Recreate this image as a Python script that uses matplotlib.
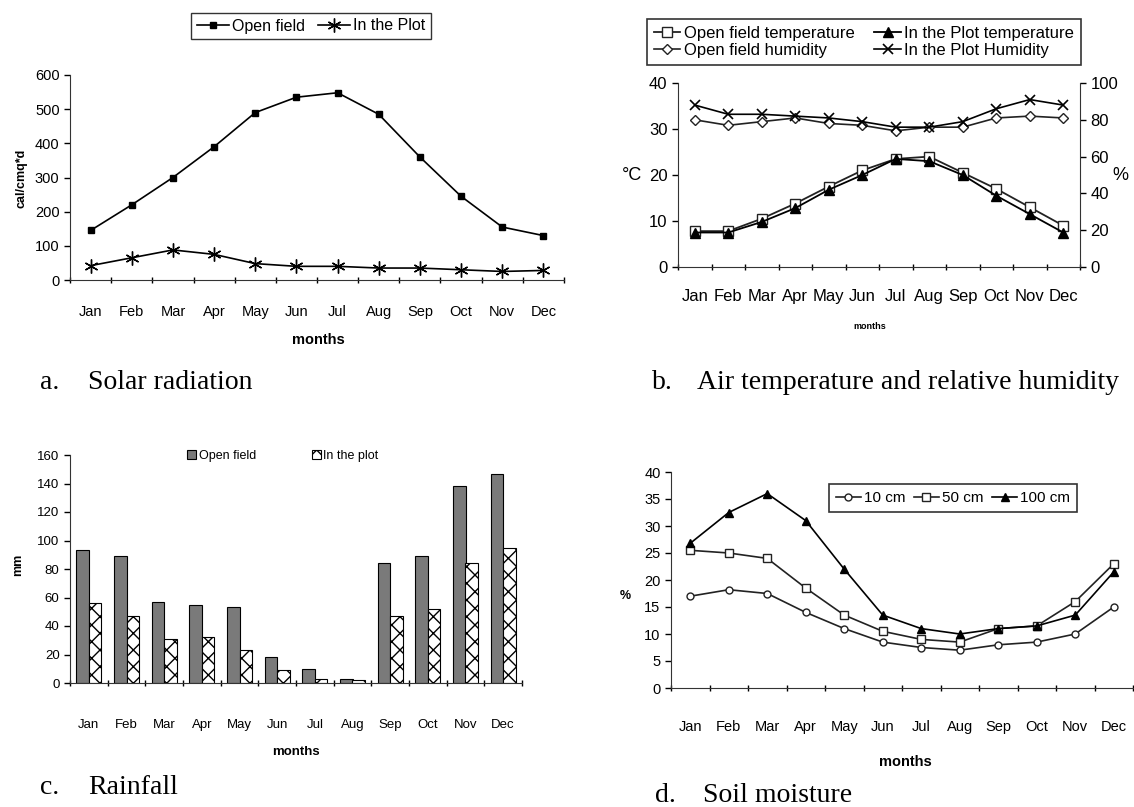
import matplotlib
matplotlib.use("Agg")
import matplotlib.pyplot as plt
import numpy as np

plt.rcParams['font.family'] = ['Liberation Sans', 'DejaVu Sans']

months = ['Jan', 'Feb', 'Mar', 'Apr', 'May', 'Jun', 'Jul', 'Aug', 'Sep', 'Oct', 'Nov', 'Dec']

# a. solar radiation (cal/cmq*d)
solar_open = [145, 220, 300, 390, 490, 535, 548, 485, 360, 245, 155, 130]
solar_plot = [42, 65, 88, 75, 48, 40, 40, 35, 35, 30, 25, 28]

# b. air temperature (°C) and relative humidity (%)
temp_open = [7.8, 7.8, 10.5, 13.8, 17.5, 21.0, 23.5, 24.0, 20.5, 17.0, 13.0, 9.0]
temp_plot = [7.5, 7.5, 9.8, 12.8, 16.8, 20.0, 23.5, 23.0, 20.0, 15.5, 11.5, 7.5]
hum_open = [80, 77, 79, 81, 78, 77, 74, 76, 76, 81, 82, 81]
hum_plot = [88, 83, 83, 82, 81, 79, 76, 76, 79, 86, 91, 88]

# c. rainfall (mm)
rain_open = [93, 89, 57, 55, 53, 18, 10, 3, 84, 89, 138, 147]
rain_plot = [56, 47, 31, 32, 23, 9, 3, 2, 47, 52, 84, 95]

# d. soil moisture (%)
soil_10 = [17, 18.2, 17.5, 14, 11, 8.5, 7.5, 7, 8, 8.5, 10, 15]
soil_50 = [25.5, 25, 24, 18.5, 13.5, 10.5, 9, 8.5, 11, 11.5, 16, 23]
soil_100 = [26.8, 32.5, 36, 31, 22, 13.5, 11, 10, 11, 11.5, 13.5, 21.5]

W, H = 1134, 807
fig = plt.figure(figsize=(W / 100, H / 100), dpi=100)


def box(l, t, r, b):
    # pixel box -> figure fraction rect
    return [l / W, 1 - b / H, (r - l) / W, (b - t) / H]


def fx(x):
    return x / W


def fy(y):
    return 1 - y / H


def category_axis(ax, size, pad):
    ax.set_xlim(-0.5, 11.5)
    ax.set_xticks(np.arange(12))
    ax.set_xticklabels(months, fontsize=size)
    ax.set_xticks(np.arange(-0.5, 12, 1), minor=True)
    ax.tick_params(axis='x', which='major', length=0, pad=pad)
    ax.tick_params(axis='x', which='minor', length=5, direction='inout', width=1)
    ax.tick_params(axis='y', length=4, direction='out', width=1, labelsize=size)
    for s in ['top', 'right']:
        ax.spines[s].set_visible(False)
    for s in ['left', 'bottom']:
        ax.spines[s].set_color('#333333')


x = np.arange(12)

# ---- a. Solar radiation
ax1 = fig.add_axes(box(70, 75, 564, 280))
category_axis(ax1, 10.5, 18)
ax1.plot(x, solar_open, color='black', lw=1.2, marker='s', ms=4, label='Open field')
ax1.plot(x, solar_plot, color='black', lw=1.2, marker=(6, 2, 0), ms=10, mew=1, label='In the Plot')
ax1.set_ylim(0, 600)
ax1.set_yticks(range(0, 601, 100))
fig.text(fx(22), fy(178), 'cal/cmq*d', rotation=90, ha='center', va='center', fontsize=9, fontweight='bold')
fig.text(fx(318), fy(340), 'months', ha='center', va='center', fontsize=10.5, fontweight='bold')
leg = ax1.legend(loc='center', bbox_to_anchor=(fx(311), fy(26)), bbox_transform=fig.transFigure,
                 ncol=2, fontsize=11.5, frameon=True, fancybox=False, edgecolor='black',
                 handlelength=2.0, handletextpad=0.2, columnspacing=0.8, borderpad=0.35)
leg.get_frame().set_linewidth(1)

# ---- b. Air temperature and relative humidity
ax2 = fig.add_axes(box(678, 83, 1080, 267))
category_axis(ax2, 12, 16)
ax2.plot(x, temp_open, color='#222222', lw=1.3, marker='s', ms=7, mfc='white', mec='#222222', label='Open field temperature')
ax2.plot(x, temp_plot, color='black', lw=1.3, marker='^', ms=7, label='In the Plot temperature')
ax2.set_ylim(0, 40)
ax2.set_yticks(range(0, 41, 10))
ax2b = ax2.twinx()
ax2b.plot(x, hum_open, color='#222222', lw=1.2, marker='D', ms=5, mfc='white', mec='#222222', label='Open field humidity')
ax2b.plot(x, hum_plot, color='black', lw=1.2, marker='x', ms=7, mew=1.2, label='In the Plot Humidity')
ax2b.set_ylim(0, 100)
ax2b.set_yticks(range(0, 101, 20))
ax2b.tick_params(axis='y', length=4, direction='out', width=1, labelsize=12)
for s in ['top', 'left', 'bottom']:
    ax2b.spines[s].set_visible(False)
ax2b.spines['right'].set_color('#333333')
fig.text(fx(632), fy(176), '°C', ha='center', va='center', fontsize=13)
fig.text(fx(1120), fy(176), '%', ha='center', va='center', fontsize=13)
fig.text(fx(870), fy(326), 'months', ha='center', va='center', fontsize=6.5, fontweight='bold')
h1, l1 = ax2.get_legend_handles_labels()
h2, l2 = ax2b.get_legend_handles_labels()
handles = [h1[0], h2[0], h1[1], h2[1]]
labels = [l1[0], l2[0], l1[1], l2[1]]
leg = ax2b.legend(handles, labels, loc='center', bbox_to_anchor=(fx(864), fy(42)), bbox_transform=fig.transFigure,
                  ncol=2, fontsize=12, frameon=True, fancybox=False, edgecolor='black',
                  handlelength=1.6, handletextpad=0.2, columnspacing=1.2, borderpad=0.4,
                  labelspacing=0.15)
leg.get_frame().set_linewidth(1.2)

# ---- c. Rainfall
ax3 = fig.add_axes(box(70, 455, 522, 683))
category_axis(ax3, 9.5, 26)
bw = 0.33
ax3.bar(x - bw / 2, rain_open, bw, color='#7a7a7a', edgecolor='black', lw=0.8, label='Open field')
ax3.bar(x + bw / 2, rain_plot, bw, color='white', edgecolor='black', lw=0.8, hatch='xx', label='In the plot')
ax3.set_ylim(0, 160)
ax3.set_yticks(range(0, 161, 20))
fig.text(fx(18), fy(565), 'mm', rotation=90, ha='center', va='center', fontsize=9, fontweight='bold')
fig.text(fx(296), fy(752), 'months', ha='center', va='center', fontsize=9.5, fontweight='bold')
ax3.legend(loc='center', bbox_to_anchor=(fx(283), fy(456)), bbox_transform=fig.transFigure,
           ncol=2, fontsize=9, frameon=False, handlelength=0.7, handleheight=0.7,
           handletextpad=0.2, columnspacing=4.5)

# ---- d. Soil moisture
ax4 = fig.add_axes(box(671, 472, 1133, 688))
category_axis(ax4, 10.5, 23)
ax4.plot(x, soil_10, color='#222222', lw=1.2, marker='o', ms=5, mfc='white', mec='#222222', label='10 cm')
ax4.plot(x, soil_50, color='#222222', lw=1.2, marker='s', ms=6, mfc='white', mec='#222222', label='50 cm')
ax4.plot(x, soil_100, color='black', lw=1.2, marker='^', ms=6, label='100 cm')
ax4.set_ylim(0, 40)
ax4.set_yticks(range(0, 41, 5))
fig.text(fx(625), fy(596), '%', ha='center', va='center', fontsize=9, fontweight='bold')
fig.text(fx(905), fy(762), 'months', ha='center', va='center', fontsize=10.5, fontweight='bold')
leg = ax4.legend(loc='center', bbox_to_anchor=(fx(953), fy(498)), bbox_transform=fig.transFigure,
                 ncol=3, fontsize=11, frameon=True, fancybox=False, edgecolor='black',
                 handlelength=1.6, handletextpad=0.2, columnspacing=0.6, borderpad=0.45)
leg.get_frame().set_linewidth(1.2)

# captions
cap = dict(family=['Liberation Serif', 'DejaVu Serif'], fontsize=20, va='center')
fig.text(fx(40), fy(383), 'a.', **cap)
fig.text(fx(88), fy(383), 'Solar radiation', **cap)
fig.text(fx(652), fy(383), 'b.', **cap)
fig.text(fx(697), fy(383), 'Air temperature and relative humidity', **cap)
fig.text(fx(40), fy(787), 'c.', **cap)
fig.text(fx(88), fy(787), 'Rainfall', **cap)
fig.text(fx(655), fy(796), 'd.', **cap)
fig.text(fx(703), fy(796), 'Soil moisture', **cap)

fig.savefig('out.png', dpi=100)
